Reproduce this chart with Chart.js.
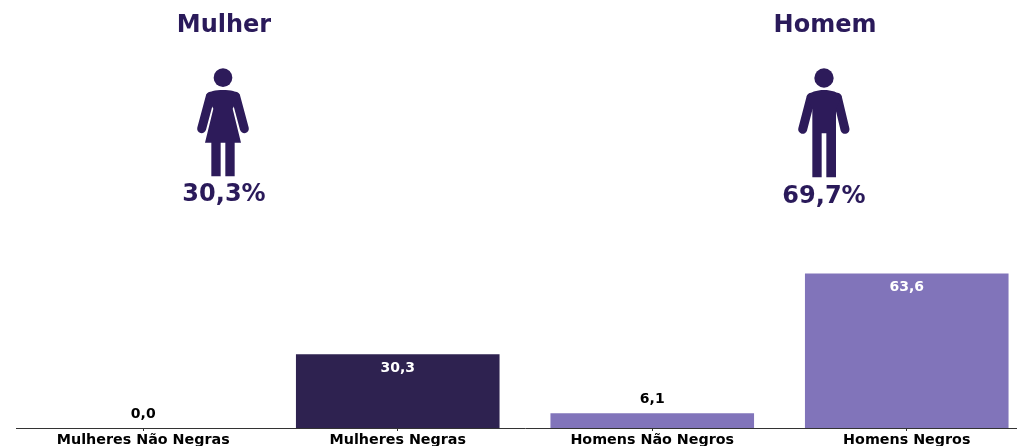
<!DOCTYPE html>
<html>
<head>
<meta charset="utf-8">
<script src="https://cdn.jsdelivr.net/npm/chart.js@4"></script>
<style>
    html, body { margin: 0; padding: 0; width: 1017px; height: 446px; overflow: hidden; background: #fff; }
    #page { position: relative; width: 1017px; height: 446px; overflow: hidden; }
    #barChart { position: absolute; left: 0; top: 0; }
    .big { position: absolute; width: 200px; text-align: center; color: #2a1a5a; font: bold 24px "DejaVu Sans", sans-serif; line-height: 28px; }
    .icon { position: absolute; top: 0; width: 150px; height: 220px; }
    .icon circle, .icon path { fill: #2d1b5a; }
    .icon line { stroke: #2d1b5a; stroke-width: 27; stroke-linecap: round; }
</style>
</head>
<body>
<div id="page">
    <canvas id="barChart" width="1034" height="446"></canvas>

    <div class="big" style="left:124px; top:10px">Mulher</div>
    <div class="big" style="left:725px; top:10px">Homem</div>

    <svg class="icon" style="left:150px" viewBox="0 0 450 660">
        <circle cx="219" cy="233" r="28"></circle>
        <line x1="181" y1="289" x2="155" y2="386"></line>
        <line x1="257" y1="289" x2="283" y2="386"></line>
        <path d="M219 270 C196 270 178 274 168 285 L190 326 L165 428 L184 428 L184 529 L212 529 L212 428 L226 428 L226 529 L254 529 L254 428 L273 428 L248 326 L270 285 C260 274 242 270 219 270 Z"></path>
    </svg>
    <svg class="icon" style="left:750px" viewBox="0 0 450 660">
        <circle cx="222" cy="234" r="29"></circle>
        <line x1="183" y1="292" x2="158" y2="388"></line>
        <line x1="262" y1="292" x2="285" y2="388"></line>
        <path d="M222 270 C199 270 181 277 170 288 L187 328 L187 532 L215 532 L215 400 L229 400 L229 532 L258 532 L258 328 L275 288 C264 277 245 270 222 270 Z"></path>
    </svg>

    <div class="big" style="left:124px; top:179px">30,3%</div>
    <div class="big" style="left:724px; top:181px">69,7%</div>
</div>

<script>
var categories = ['Mulheres Não Negras', 'Mulheres Negras', 'Homens Não Negros', 'Homens Negros'];
var values = [0.0, 30.3, 6.1, 63.6];
var barColors = ['#2e2250', '#2e2250', '#8174ba', '#8174ba'];

// values go inside the bar when it is tall enough, otherwise on top
var valueLabels = {
    id: 'valueLabels',
    afterDatasetsDraw: function (chart) {
        var ctx = chart.ctx;
        var bars = chart.getDatasetMeta(0).data;
        ctx.save();
        ctx.font = 'bold 14px "DejaVu Sans", sans-serif';
        ctx.textAlign = 'center';
        ctx.textBaseline = 'middle';
        bars.forEach(function (bar, i) {
            var text = values[i].toFixed(1).replace('.', ',');
            if (values[i] > 20) {
                ctx.fillStyle = '#ffffff';
                ctx.fillText(text, bar.x, bar.y + 14);
            } else {
                ctx.fillStyle = '#000000';
                ctx.fillText(text, bar.x, bar.y - 14);
            }
        });
        ctx.restore();
    }
};

var barChart = new Chart(document.getElementById('barChart').getContext('2d'), {
    type: 'bar',
    data: {
        labels: categories,
        datasets: [
            {
                data: values,
                backgroundColor: barColors,
                barPercentage: 0.8,
                categoryPercentage: 1
            }
        ]
    },
    options: {
        responsive: false,
        animation: false,
        devicePixelRatio: 1,
        layout: {
            padding: { left: 16, top: 185, right: 0, bottom: 0 }
        },
        plugins: {
            legend: { display: false },
            tooltip: { enabled: false }
        },
        scales: {
            x: {
                afterFit: function (scale) { scale.height = 18; },
                border: { color: '#333333', width: 1 },
                grid: { offset: false, drawOnChartArea: false, tickLength: 3, tickColor: '#333333' },
                ticks: {
                    color: '#000000',
                    autoSkip: false,
                    maxRotation: 0,
                    padding: 1,
                    font: { family: '"DejaVu Sans"', size: 14.3, weight: 'bold' }
                }
            },
            y: {
                display: false,
                min: 0,
                max: 100
            }
        }
    },
    plugins: [valueLabels]
});
</script>
</body>
</html>
